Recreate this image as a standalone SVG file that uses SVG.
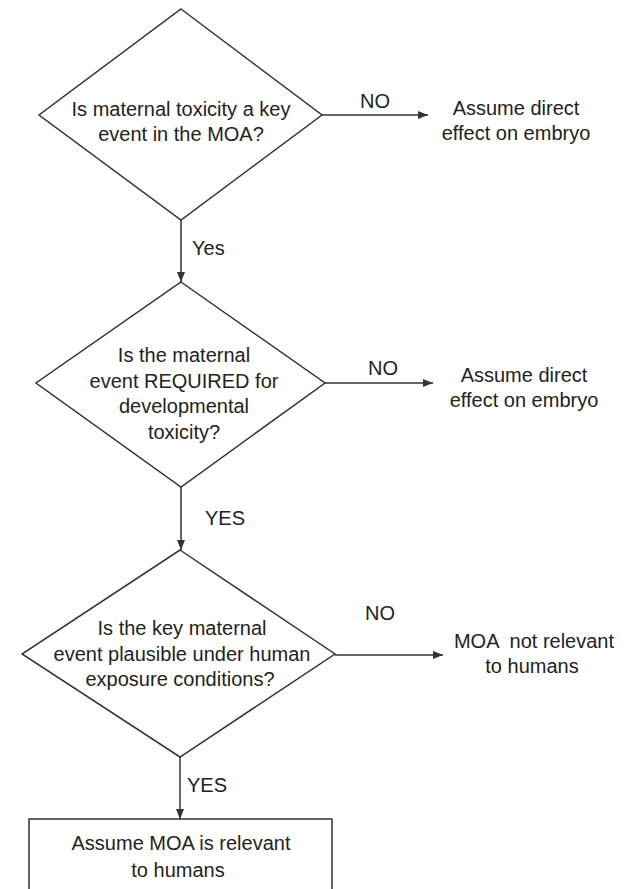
<svg xmlns="http://www.w3.org/2000/svg" width="633" height="889" viewBox="0 0 633 889">
  <style>
    .shape { fill: #ffffff; stroke: #333333; stroke-width: 1.5; }
    .edge { fill: none; stroke: #333333; stroke-width: 1.5; }
    text { font-family: "Liberation Sans", Arial, Helvetica, sans-serif; font-size: 20px; fill: #222222; }
    .c { text-anchor: middle; }
  </style>
  <defs>
    <marker id="arrow" markerUnits="userSpaceOnUse" markerWidth="11" markerHeight="9" refX="10" refY="4" orient="auto">
      <path d="M0,0 L10,4 L0,8 Z" fill="#333333"/>
    </marker>
  </defs>
  <rect width="633" height="889" fill="#ffffff"/>

  <!-- connectors -->
  <g id="connectors">
    <line class="edge" x1="322" y1="115" x2="428" y2="115" marker-end="url(#arrow)"/>
    <text class="c" x="375" y="108">NO</text>
    <line class="edge" x1="181" y1="220" x2="181" y2="282" marker-end="url(#arrow)"/>
    <text x="192" y="255">Yes</text>

    <line class="edge" x1="325" y1="383" x2="433" y2="383" marker-end="url(#arrow)"/>
    <text class="c" x="383" y="375">NO</text>
    <line class="edge" x1="181" y1="487" x2="181" y2="550" marker-end="url(#arrow)"/>
    <text x="205" y="525">YES</text>

    <line class="edge" x1="335" y1="655" x2="443" y2="655" marker-end="url(#arrow)"/>
    <text class="c" x="380" y="620">NO</text>
    <line class="edge" x1="180" y1="757" x2="180" y2="819" marker-end="url(#arrow)"/>
    <text x="187" y="792">YES</text>
  </g>

  <!-- decision: maternal toxicity as key event -->
  <g id="q-key-event">
    <polygon class="shape" points="181,9 322,115 181,220 39,115"/>
    <text class="c" x="181" y="116">Is maternal toxicity a key</text>
    <text class="c" x="181" y="141">event in the MOA?</text>
  </g>

  <g id="direct-effect-1">
    <text class="c" x="516" y="115">Assume direct</text>
    <text class="c" x="516" y="140">effect on embryo</text>
  </g>

  <!-- decision: maternal event required -->
  <g id="q-required">
    <polygon class="shape" points="181,282 325,383 181,487 36,383"/>
    <text class="c" x="184" y="362">Is the maternal</text>
    <text class="c" x="184" y="388">event REQUIRED for</text>
    <text class="c" x="184" y="413">developmental</text>
    <text class="c" x="184" y="439">toxicity?</text>
  </g>

  <g id="direct-effect-2">
    <text class="c" x="524" y="382">Assume direct</text>
    <text class="c" x="524" y="407">effect on embryo</text>
  </g>

  <!-- decision: plausibility under human exposure -->
  <g id="q-plausible">
    <polygon class="shape" points="180,550 335,654 180,757 22,654"/>
    <text class="c" x="182" y="635">Is the key maternal</text>
    <text class="c" x="182" y="661">event plausible under human</text>
    <text class="c" x="180" y="686">exposure conditions?</text>
  </g>

  <g id="not-relevant">
    <text class="c" x="534" y="648" xml:space="preserve">MOA  not relevant</text>
    <text class="c" x="532" y="673">to humans</text>
  </g>

  <!-- outcome: relevant to humans -->
  <g id="relevant">
    <rect class="shape" x="29" y="819" width="303" height="80"/>
    <text class="c" x="181" y="850">Assume MOA is relevant</text>
    <text class="c" x="178" y="877">to humans</text>
  </g>
</svg>
